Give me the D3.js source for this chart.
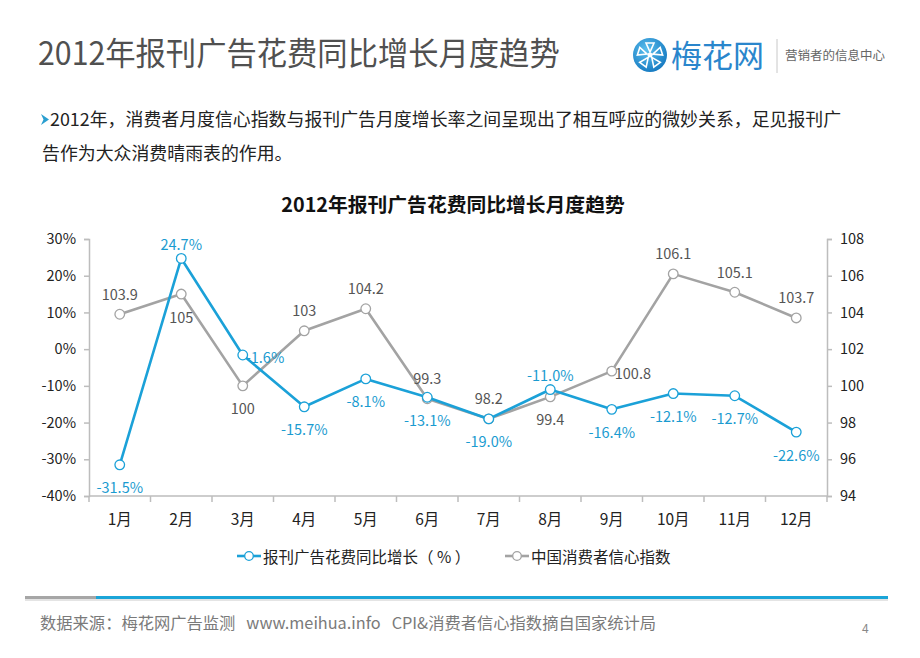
<!DOCTYPE html>
<html>
<head>
<meta charset="utf-8">
<script src="https://cdn.jsdelivr.net/npm/d3@7/dist/d3.min.js"></script>
<style>
html,body{margin:0;padding:0;background:#fff;}
svg{display:block;font-family:"Noto Sans CJK SC","Noto Sans",sans-serif;}
</style>
</head>
<body>
<svg id="c" width="920" height="658"></svg>
<script>
const months = ["1月","2月","3月","4月","5月","6月","7月","8月","9月","10月","11月","12月"];
const adGrowth = [-31.5, 24.7, -1.6, -15.7, -8.1, -13.1, -19.0, -11.0, -16.4, -12.1, -12.7, -22.6];
const confidence = [103.9, 105, 100, 103, 104.2, 99.3, 98.2, 99.4, 100.8, 106.1, 105.1, 103.7];
const leftTicks = [-40, -30, -20, -10, 0, 10, 20, 30];
const rightTicks = [94, 96, 98, 100, 102, 104, 106, 108];
const adLabelSide = ["b","t","r","b","b","b","b","t","b","b","b","b"];
const confLabelSide = ["t","b","b","t","t","t","t","b","r","t","t","t"];
const seriesNames = ["报刊广告花费同比增长（ % ）", "中国消费者信心指数"];

const BLUE = "#1ba1d8", GRAY = "#a3a3a3", AXIS = "#bdbdbd";
const svg = d3.select("#c");

// Page title
svg.append("text").attr("x", 38).attr("y", 0).attr("font-size", 30.3)
  .attr("transform", "translate(0,65) scale(1,1.06)")
  .attr("fill", "#505050").text("2012年报刊广告花费同比增长月度趋势");

// Logo
const lg = svg.append("g").attr("transform", "translate(650,55)");
const grad = svg.append("defs").append("radialGradient").attr("id", "lgr")
  .attr("cx", "40%").attr("cy", "35%").attr("r", "70%");
grad.append("stop").attr("offset", "0%").attr("stop-color", "#5cc0ee");
grad.append("stop").attr("offset", "100%").attr("stop-color", "#1478c0");
lg.append("circle").attr("r", 17).attr("fill", "url(#lgr)");
for (let i = 0; i < 5; i++) {
  const a = i * 72;
  lg.append("path").attr("transform", `rotate(${a})`)
    .attr("d", "M0,-3 L-4,-12 L4,-12 Z").attr("fill", "none")
    .attr("stroke", "#fff").attr("stroke-width", 1.6);
}
lg.append("circle").attr("r", 2.5).attr("fill", "#fff");
svg.append("text").attr("x", 671).attr("y", 67).attr("font-size", 31)
  .attr("fill", "#2a86cc").text("梅花网");
svg.append("line").attr("x1", 777).attr("x2", 777).attr("y1", 39).attr("y2", 73)
  .attr("stroke", "#c8c8c8").attr("stroke-width", 1);
svg.append("text").attr("x", 785).attr("y", 60).attr("font-size", 12.5)
  .attr("fill", "#666").text("营销者的信息中心");

// Bullet text
svg.append("path").attr("d", "M41,114 L49,119.5 L41,125 L43.5,119.5 Z").attr("fill", "#2a9fd0");
svg.append("text").attr("x", 50).attr("y", 126).attr("font-size", 17.9).attr("fill", "#222")
  .text("2012年，消费者月度信心指数与报刊广告月度增长率之间呈现出了相互呼应的微妙关系，足见报刊广");
svg.append("text").attr("x", 42).attr("y", 160).attr("font-size", 17.9).attr("fill", "#222")
  .text("告作为大众消费晴雨表的作用。");

// Chart title
svg.append("text").attr("x", 453).attr("y", 212).attr("text-anchor", "middle")
  .attr("font-size", 19.8).attr("font-weight", "bold").attr("fill", "#111")
  .text("2012年报刊广告花费同比增长月度趋势");

// Scales
const x0 = 89, x1 = 827, yT = 239, yB = 496;
const x = d3.scaleBand().domain(months).range([x0, x1]);
const yL = d3.scaleLinear().domain([-40, 30]).range([yB, yT]);
const yR = d3.scaleLinear().domain([94, 108]).range([yB, yT]);
const cx = m => x(m) + x.bandwidth() / 2;

// Axes
const axL = svg.append("g").attr("transform", `translate(${x0},0)`)
  .call(d3.axisLeft(yL).tickValues(leftTicks).tickSize(5).tickPadding(8).tickFormat(d => d + "%"));
const axR = svg.append("g").attr("transform", `translate(${x1},0)`)
  .call(d3.axisRight(yR).tickValues(rightTicks).tickSize(5).tickPadding(8));
const axB = svg.append("g").attr("transform", `translate(0,${yB})`)
  .call(d3.axisBottom(x).tickSize(0).tickPadding(18));
[axL, axR, axB].forEach(a => {
  a.selectAll("path,line").attr("stroke", AXIS).attr("stroke-width", 1.5);
  a.selectAll("text").attr("fill", "#222").attr("font-size", 14.5)
    .attr("font-family", '"Noto Sans CJK SC","Noto Sans",sans-serif');
});
axB.select(".domain").attr("d", `M${x0},0H${x1}`);
axB.selectAll("text").attr("font-size", 15.5);
// bottom boundary ticks
const bounds = d3.range(months.length + 1).map(i => x0 + i * x.bandwidth());
axB.selectAll(".bt").data(bounds).enter().append("line").attr("class", "bt")
  .attr("x1", d => d).attr("x2", d => d).attr("y1", 0).attr("y2", 6)
  .attr("stroke", AXIS).attr("stroke-width", 1.5);

// Lines
function drawSeries(vals, yScale, color, width) {
  const pts = vals.map((v, i) => [cx(months[i]), yScale(v)]);
  svg.append("path").attr("d", d3.line()(pts)).attr("fill", "none")
    .attr("stroke", color).attr("stroke-width", width).attr("stroke-linejoin", "round");
  svg.append("g").selectAll("circle").data(pts).enter().append("circle")
    .attr("cx", d => d[0]).attr("cy", d => d[1]).attr("r", 4.8)
    .attr("fill", "#fff").attr("stroke", color).attr("stroke-width", 1.3);
  return pts;
}
const pC = drawSeries(confidence, yR, GRAY, 2.6);
const pA = drawSeries(adGrowth, yL, BLUE, 2.6);

function drawLabels(pts, vals, sides, fmt, color, upOff, downOff) {
  svg.append("g").selectAll("text").data(pts).enter().append("text")
    .attr("x", (d, i) => sides[i] === "r" ? d[0] + 3 : d[0])
    .attr("y", (d, i) => sides[i] === "t" ? d[1] - upOff : sides[i] === "b" ? d[1] + downOff : d[1] + 1)
    .attr("text-anchor", (d, i) => sides[i] === "r" ? "start" : "middle")
    .attr("dominant-baseline", "central")
    .attr("font-size", 14.5).attr("fill", color)
    .text((d, i) => fmt(vals[i]));
}
drawLabels(pC, confidence, confLabelSide, v => String(v), "#555", 21, 22);
drawLabels(pA, adGrowth, adLabelSide, v => v.toFixed(1) + "%", "#1a9bd0", 15, 22);

// Legend
const legY = 556;
const leg = [
  {x: 237, color: BLUE, name: seriesNames[0]},
  {x: 505, color: GRAY, name: seriesNames[1]}
];
leg.forEach(l => {
  svg.append("line").attr("x1", l.x).attr("x2", l.x + 24).attr("y1", legY).attr("y2", legY)
    .attr("stroke", l.color).attr("stroke-width", 2.6);
  svg.append("circle").attr("cx", l.x + 12).attr("cy", legY).attr("r", 4.3)
    .attr("fill", "#fff").attr("stroke", l.color).attr("stroke-width", 1.3);
  svg.append("text").attr("x", l.x + 26).attr("y", legY).attr("dominant-baseline", "central")
    .attr("font-size", 15.5).attr("fill", "#222").style("white-space", "pre").text(l.name);
});

// Footer bar
svg.append("rect").attr("x", 25).attr("y", 598).attr("width", 863).attr("height", 3).attr("fill", "#e4e4e4");
svg.append("rect").attr("x", 25).attr("y", 596).attr("width", 71).attr("height", 3).attr("fill", "#a6a6a6");
svg.append("rect").attr("x", 96).attr("y", 596).attr("width", 792).attr("height", 3).attr("fill", "#1ba5d8");
svg.append("text").attr("x", 40).attr("y", 622).attr("dominant-baseline", "central")
  .attr("font-size", 16.3).attr("fill", "#7a7a7a").style("white-space", "pre")
  .text("数据来源：梅花网广告监测   www.meihua.info   CPI&消费者信心指数摘自国家统计局");
svg.append("text").attr("x", 862).attr("y", 627).attr("dominant-baseline", "central")
  .attr("font-size", 12).attr("fill", "#888").text("4");
</script>
</body>
</html>
